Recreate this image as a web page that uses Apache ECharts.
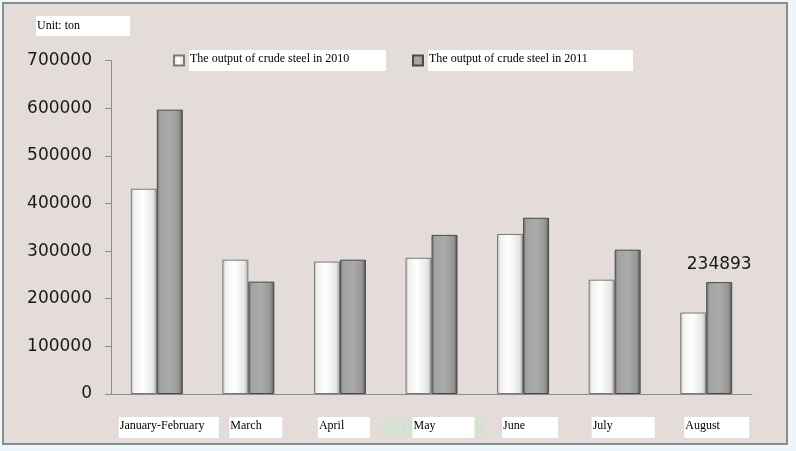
<!DOCTYPE html>
<html>
<head>
<meta charset="utf-8">
<script src="https://cdn.jsdelivr.net/npm/echarts@6/dist/echarts.min.js"></script>
<style>
html,body{margin:0;padding:0;background:#EEF6FC;}
#chart{width:796px;height:451px;}
</style>
</head>
<body>
<div id="chart"></div>
<script>
// ---- data ----
const categories = ['January-February', 'March', 'April', 'May', 'June', 'July', 'August'];
const seriesNames = ['The output of crude steel in 2010', 'The output of crude steel in 2011'];
const output2010 = [431000, 282000, 278000, 286000, 336000, 240000, 171000];
const output2011 = [597000, 236000, 282000, 334000, 370000, 303000, 234893];
const labelledPoint = 6; // index of the 2011 bar that carries a value label
const yTicks = [0, 100000, 200000, 300000, 400000, 500000, 600000, 700000];
const unitText = 'Unit: ton';
const axisTitle = '坐标轴标题';

// ---- styles (label box sizes) ----
const boxW = [100, 53, 52, 62, 56, 63, 65];
const boxOff = [-38, -19, -22, -19, -21, -23, -22];
const serifFont = 'Liberation Serif';

const ctx = document.createElement('canvas').getContext('2d');
ctx.font = '12px "' + serifFont + '"';
const tw = s => ctx.measureText(s).width;

const rich = {};
categories.forEach((c, i) => {
  const w = tw(c);
  rich['p' + i] = { width: Math.max(0, boxW[i] + 2 * boxOff[i]), height: 14, padding: [2, 0, 5, 0] };
  rich['b' + i] = {
    height: 14, lineHeight: 14, padding: [2, Math.max(0, boxW[i] - w - 1), 5, 1],
    backgroundColor: '#fff', color: '#000',
    fontFamily: serifFont, fontSize: 12
  };
});

function grad(stops) {
  return new echarts.graphic.LinearGradient(0, 0, 1, 0, stops.map(s => ({ offset: s[0], color: s[1] })));
}
const light = grad([[0, '#B8B8B8'], [0.12, '#F0F0F0'], [0.45, '#FFFFFF'], [0.85, '#E6E6E6'], [1, '#A8A8A8']]);
const dark = grad([[0, '#6A6A6A'], [0.12, '#A2A2A2'], [0.5, '#ABABAB'], [0.85, '#969696'], [1, '#555555']]);

const chart = echarts.init(document.getElementById('chart'), null, { renderer: 'canvas' });
chart.setOption({
  backgroundColor: '#EEF6FC',
  animation: false,
  graphic: [{
    type: 'rect', z: -10, silent: true,
    shape: { x: 3, y: 3, width: 784, height: 441 },
    style: { fill: '#E3DCD9', stroke: '#8C8C8C', lineWidth: 2 }
  }],
  title: {
    text: unitText, left: 36, top: 16,
    backgroundColor: '#fff', padding: [4, 50, 4, 1],
    textStyle: { fontFamily: serifFont, fontSize: 12, fontWeight: 'normal', color: '#000', lineHeight: 12 }
  },
  legend: {
    left: 173, top: 50, padding: 0, itemWidth: 10, itemHeight: 10, itemGap: 26,
    icon: 'rect',
    data: seriesNames,
    formatter: name => {
      const key = name === seriesNames[0] ? 'a' : 'b';
      return '{' + key + '|' + name + '}';
    },
    textStyle: {
      rich: {
        a: { backgroundColor: '#fff', height: 14, lineHeight: 14, padding: [2, 196 - tw(seriesNames[0]), 5, 1], color: '#000', fontFamily: serifFont, fontSize: 12 },
        b: { backgroundColor: '#fff', height: 14, lineHeight: 14, padding: [2, 204 - tw(seriesNames[1]), 5, 1], color: '#000', fontFamily: serifFont, fontSize: 12 }
      }
    }
  },
  grid: { left: 111, right: 44, top: 60.6, bottom: 57 },
  xAxis: [{
    type: 'category', data: categories, z: 5,
    axisLine: { lineStyle: { color: '#8C8C8C', width: 1 } },
    axisTick: { show: false },
    axisLabel: {
      interval: 0, margin: 23,
      formatter: (v, i) => '{p' + i + '|}{b' + i + '|' + v + '}',
      rich: rich
    }
  }, {
    type: 'category', data: categories, position: 'bottom', z: 1,
    axisLine: { show: false }, axisTick: { show: false }, axisLabel: { show: false }, splitLine: { show: false },
    name: axisTitle, nameLocation: 'middle', nameGap: 23,
    nameTextStyle: { color: '#C4E8CB', fontSize: 21, fontFamily: 'Noto Sans CJK SC' }
  }],
  yAxis: {
    type: 'value', min: yTicks[0], max: yTicks[yTicks.length - 1], interval: yTicks[1] - yTicks[0],
    axisLine: { show: true, lineStyle: { color: '#8C8C8C', width: 1 } },
    axisTick: { show: true, length: 6, lineStyle: { color: '#8C8C8C' } },
    splitLine: { show: false },
    axisLabel: { margin: 19, color: '#1A1A1A', fontFamily: 'DejaVu Sans', fontSize: 17, formatter: v => String(v) }
  },
  series: [{
    name: seriesNames[0], type: 'bar', barWidth: 26, barGap: '0%',
    data: output2010,
    itemStyle: { color: light, borderColor: '#7A7A7A', borderWidth: 1 }
  }, {
    name: seriesNames[1], type: 'bar', barWidth: 26, barGap: '0%',
    data: output2011.map((v, i) => i === labelledPoint
      ? { value: v, label: { show: true, position: 'top', distance: 9, color: '#1A1A1A', fontFamily: 'DejaVu Sans', fontSize: 17 } }
      : v),
    itemStyle: { color: dark, borderColor: '#4A4A4A', borderWidth: 1 }
  }]
});
</script>
</body>
</html>
